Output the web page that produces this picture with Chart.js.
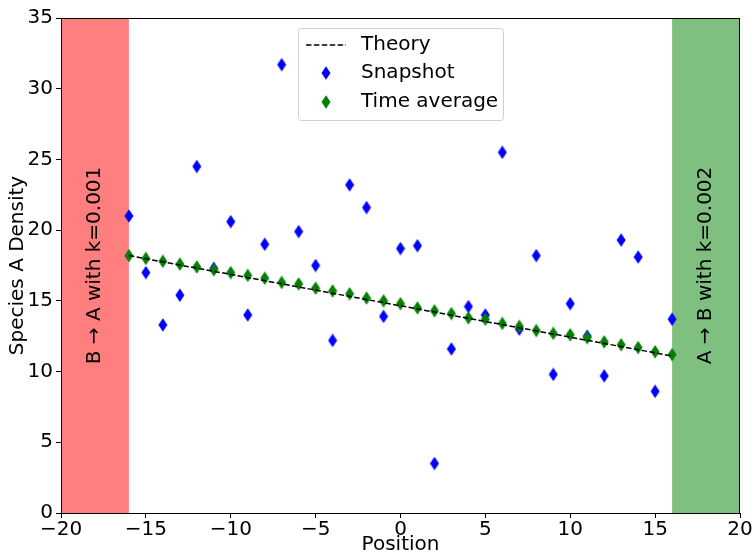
<!DOCTYPE html>
<html>
<head>
<meta charset="utf-8">
<script src="https://cdn.jsdelivr.net/npm/chart.js@4"></script>
<style>
  body { margin: 0; background: #fff; }
  canvas { display: block; }
</style>
</head>
<body>
<canvas id="grafico" width="755" height="555"></canvas>
<script>
// dados
const positions = [-16,-15,-14,-13,-12,-11,-10,-9,-8,-7,-6,-5,-4,-3,-2,-1,0,1,2,3,4,5,6,7,8,9,10,11,12,13,14,15,16];
const snapshot = [21.0,17.0,13.3,15.4,24.5,17.3,20.6,14.0,19.0,31.7,19.9,17.5,12.2,23.2,21.6,13.9,18.7,18.9,3.5,11.6,14.6,14.0,25.5,13.0,18.2,9.8,14.8,12.5,9.7,19.3,18.1,8.6,13.7];
const timeAverage = [18.2,18.0,17.8,17.6,17.4,17.2,17.0,16.8,16.6,16.3,16.2,15.9,15.7,15.5,15.2,15.0,14.8,14.5,14.3,14.1,13.8,13.7,13.4,13.2,12.9,12.7,12.6,12.4,12.1,11.9,11.7,11.4,11.2];
const theoryX = [-16, 16];
const theoryY = [18.2, 11.1];
const xTicks = [-20,-15,-10,-5,0,5,10,15,20];
const yTicks = [0,5,10,15,20,25,30,35];
const regions = [
    { from: -20, to: -16, color: '#ff7f7f', text: 'B \u2192 A with k=0.001' },
    { from: 16, to: 20, color: '#7fbf7f', text: 'A \u2192 B with k=0.002' }
];

const fonte = 'DejaVu Sans';

// losango fino (marcador 'd' do matplotlib)
const losango = (cor) => {
    const c = document.createElement('canvas');
    c.width = 10; c.height = 14;
    const g = c.getContext('2d');
    g.fillStyle = cor;
    g.beginPath();
    g.moveTo(5, 0.3); g.lineTo(9.5, 7); g.lineTo(5, 13.7); g.lineTo(0.5, 7);
    g.closePath();
    g.fill();
    return c;
};
const azul = losango('#0000ff');
const verde = losango('#008000');

const faixas = {
    id: 'faixas',
    beforeDatasetsDraw(chart) {
        const { ctx, chartArea, scales: { x } } = chart;
        ctx.save();
        regions.forEach(r => {
            const x0 = x.getPixelForValue(r.from), x1 = x.getPixelForValue(r.to);
            ctx.fillStyle = r.color;
            ctx.fillRect(x0, chartArea.top, x1 - x0, chartArea.bottom - chartArea.top);
            ctx.save();
            ctx.translate((x0 + x1) / 2, (chartArea.top + chartArea.bottom) / 2);
            ctx.rotate(-Math.PI / 2);
            ctx.fillStyle = '#000';
            ctx.font = '20px ' + fonte;
            ctx.textAlign = 'center';
            ctx.textBaseline = 'middle';
            ctx.fillText(r.text, 0, 0);
            ctx.restore();
        });
        ctx.restore();
    },
    afterDraw(chart) {
        const { ctx, chartArea: a } = chart;
        ctx.save();
        ctx.strokeStyle = '#000';
        ctx.lineWidth = 1;
        ctx.strokeRect(a.left + 0.5, a.top + 0.5, a.right - a.left - 1, a.bottom - a.top);
        // legenda
        const lx = 298, ly = 28, lw = 205, lh = 92;
        ctx.fillStyle = 'rgba(255,255,255,0.8)';
        ctx.strokeStyle = '#d0d0d0';
        ctx.beginPath();
        ctx.roundRect(lx + 0.5, ly + 0.5, lw, lh, 3);
        ctx.fill(); ctx.stroke();
        ctx.font = '20px ' + fonte;
        ctx.fillStyle = '#000';
        ctx.textBaseline = 'middle';
        ctx.textAlign = 'left';
        const linhas = [['Theory', 45], ['Snapshot', 73], ['Time average', 102]];
        linhas.forEach(([t, y]) => ctx.fillText(t, 361, y));
        ctx.strokeStyle = '#000';
        ctx.lineWidth = 1.5;
        ctx.setLineDash([5.5, 2.4]);
        ctx.beginPath(); ctx.moveTo(306, 45); ctx.lineTo(346, 45); ctx.stroke();
        ctx.setLineDash([]);
        ctx.drawImage(azul, 321, 66);
        ctx.drawImage(verde, 321, 95);
        ctx.restore();
    }
};

const menos = v => String(v).replace('-', '\u2212');

const ctx = document.getElementById('grafico').getContext('2d');
const grafico = new Chart(ctx, {
    type: 'scatter',
    data: {
        datasets: [
            {
                label: 'Time average',
                data: positions.map((p, i) => ({ x: p, y: timeAverage[i] })),
                pointStyle: verde,
                order: 1
            },
            {
                label: 'Snapshot',
                data: positions.map((p, i) => ({ x: p, y: snapshot[i] })),
                pointStyle: azul,
                order: 2
            },
            {
                label: 'Theory',
                type: 'line',
                data: theoryX.map((p, i) => ({ x: p, y: theoryY[i] })),
                borderColor: '#000',
                borderWidth: 1.5,
                borderDash: [5.5, 2.4],
                pointRadius: 0,
                fill: false,
                order: 0
            }
        ]
    },
    plugins: [faixas],
    options: {
        responsive: false,
        animation: false,
        layout: { padding: { top: 18, right: 15, left: 0, bottom: 0 } },
        plugins: {
            legend: { display: false },
            tooltip: { enabled: false }
        },
        scales: {
            x: {
                type: 'linear',
                min: -20, max: 20,
                afterBuildTicks: s => { s.ticks = xTicks.map(v => ({ value: v })); },
                afterFit: s => { s.height = 42; },
                grid: { drawOnChartArea: false, drawTicks: true, tickLength: 5, color: '#000' },
                border: { display: true, color: '#000' },
                ticks: {
                    color: '#000', font: { family: fonte, size: 20, lineHeight: 1 }, padding: 2,
                    maxRotation: 0, callback: v => menos(v)
                },
                title: {
                    display: true, text: 'Position', color: '#000',
                    font: { family: fonte, size: 20, lineHeight: 1 }, padding: { top: 0, bottom: 0 }
                }
            },
            y: {
                min: 0, max: 35,
                afterBuildTicks: s => { s.ticks = yTicks.map(v => ({ value: v })); },
                afterFit: s => { s.width = 61; },
                grid: { drawOnChartArea: false, drawTicks: true, tickLength: 5, color: '#000' },
                border: { display: true, color: '#000' },
                ticks: {
                    color: '#000', font: { family: fonte, size: 20 }, padding: 3,
                    callback: v => menos(v)
                },
                title: {
                    display: true, text: 'Species A Density', color: '#000',
                    font: { family: fonte, size: 20 }, padding: { top: 6, bottom: 0 }
                }
            }
        }
    }
});
</script>
</body>
</html>
